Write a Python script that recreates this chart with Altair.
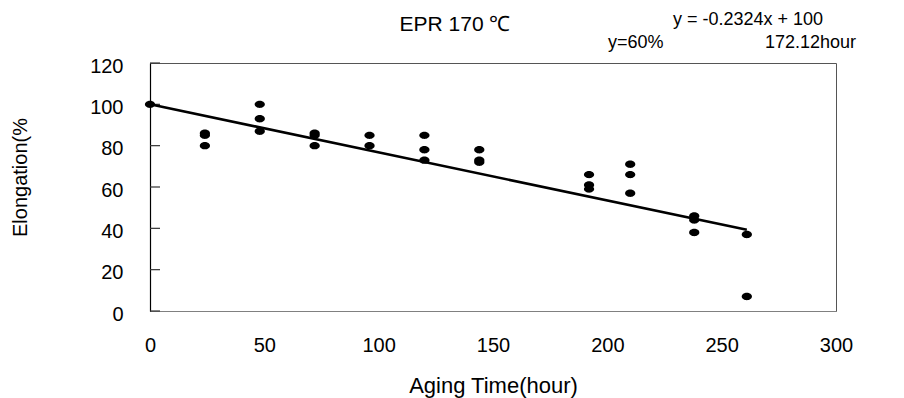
import altair as alt
import pandas as pd

# ---- data ----
hours = [0,
         24, 24, 24,
         48, 48, 48,
         72, 72, 72,
         96, 96,
         120, 120, 120,
         144, 144, 144,
         192, 192, 192,
         210, 210, 210,
         238, 238, 238,
         261, 261]
elong = [100,
         86, 85, 80,
         100, 93, 87,
         86, 85, 80,
         85, 80,
         85, 78, 73,
         78, 73, 72,
         66, 61, 59,
         71, 66, 57,
         46, 44, 38,
         37, 7]
fit_hours = [0, 261]
fit_elong = [100, 39.3]
y_tick_values = [0, 20, 40, 60, 80, 100, 120]
x_tick_values = [0, 50, 100, 150, 200, 250, 300]

title_text = "EPR 170 ℃"
eq_text = "y = -0.2324x + 100"
y60_text = "y=60%"
hour_text = "172.12hour"
x_title = "Aging Time(hour)"
y_title = "Elongation(%"

FONT = "Liberation Sans"

pts = pd.DataFrame({"hours": hours, "elong": elong})
fit = pd.DataFrame({"hours": fit_hours, "elong": fit_elong})
ticks = pd.DataFrame({"elong": y_tick_values})

xs = alt.Scale(domain=[0, 300], nice=False, zero=False)
ys = alt.Scale(domain=[0, 120], nice=False)

x_axis = alt.Axis(values=x_tick_values, title=x_title, grid=False, ticks=False,
                  labelFlush=False, labelOverlap=False,
                  labelPadding=24, labelFontSize=20, labelFont=FONT, labelColor="black",
                  domainColor="#808080", domainWidth=1,
                  titleFont=FONT, titleFontSize=22, titleFontWeight="normal",
                  titleColor="black", titleBaseline="middle", titleY=74)
y_axis = alt.Axis(values=y_tick_values, title=y_title, grid=False, ticks=False,
                  labelFlush=False, labelOverlap=False, labelOffset=3,
                  labelPadding=27, labelFontSize=20, labelFont=FONT, labelColor="black",
                  domainColor="black", domainWidth=1.2,
                  titleFont=FONT, titleFontSize=20, titleFontWeight="normal",
                  titleColor="black", titleX=-130, titleY=114, titleAngle=-90,
                  titleAlign="center", titleBaseline="middle")

ellipse = "M -1 0 A 1 0.72 0 1 1 1 0 A 1 0.72 0 1 1 -1 0 Z"

points = alt.Chart(pts).mark_point(shape=ellipse, filled=True, size=105,
                                   color="black", opacity=1).encode(
    x=alt.X("hours:Q", scale=xs, axis=x_axis),
    y=alt.Y("elong:Q", scale=ys, axis=y_axis),
)

line = alt.Chart(fit).mark_line(color="black", strokeWidth=2.6).encode(
    x=alt.X("hours:Q", scale=xs, title=x_title),
    y=alt.Y("elong:Q", scale=ys, title=y_title),
)

tick_rules = alt.Chart(ticks).mark_rule(color="#333333", strokeWidth=1.2).encode(
    y=alt.Y("elong:Q", scale=ys, title=y_title),
    x=alt.value(0),
    x2=alt.value(10),
)

def label(text, px, py, size, align="center"):
    return alt.Chart(pd.DataFrame({"t": [text]})).mark_text(
        font=FONT, fontSize=size, color="black", align=align, baseline="middle"
    ).encode(text="t:N", x=alt.value(px), y=alt.value(py))

t_title = label(title_text, 305, -38, 21)
t_eq = label(eq_text, 598, -43, 18)
t_y60 = label(y60_text, 458, -20, 18, align="left")
t_hour = label(hour_text, 615, -20, 18, align="left")

chart = alt.layer(tick_rules, line, points, t_title, t_eq, t_y60, t_hour).properties(
    width=686, height=248,
    padding={"left": 150, "top": 63, "right": 68, "bottom": 87},
    autosize=alt.AutoSizeParams(type="none"),
    background="white",
).configure_view(stroke="#555555", strokeWidth=1)

chart.save("out.html", embed_options={"renderer": "svg", "actions": False})
